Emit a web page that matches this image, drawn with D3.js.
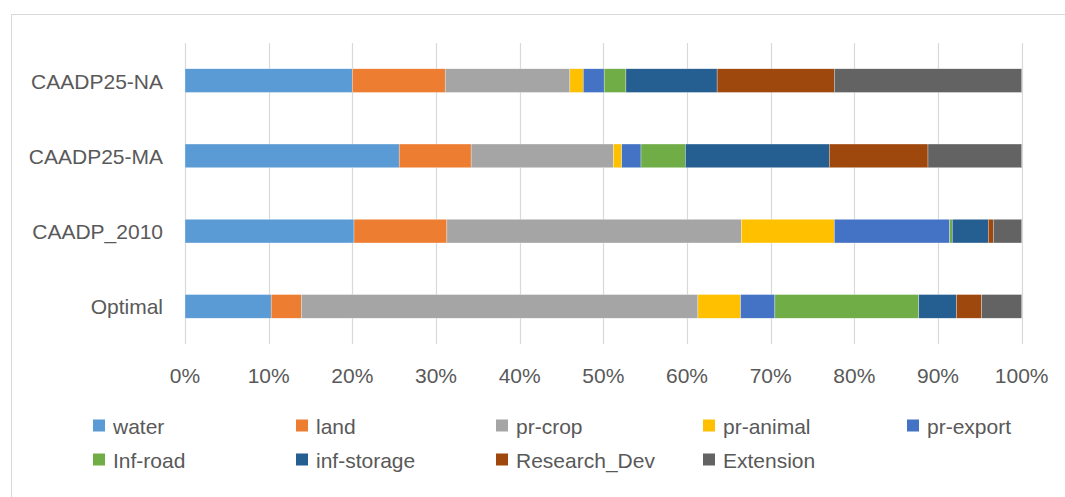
<!DOCTYPE html>
<html>
<head>
<meta charset="utf-8">
<script src="https://cdn.jsdelivr.net/npm/d3@7"></script>
<style>
  html, body { margin: 0; padding: 0; background: #fff; }
  svg { display: block; }
  text { font-family: "Liberation Sans", Arial, sans-serif; fill: #595959; }
</style>
</head>
<body>
<svg id="chart" width="1065" height="497"></svg>
<script>
// ---- data ----
const categories = ["CAADP25-NA", "CAADP25-MA", "CAADP_2010", "Optimal"];
const seriesNames = ["water", "land", "pr-crop", "pr-animal", "pr-export", "Inf-road", "inf-storage", "Research_Dev", "Extension"];
const seriesColors = ["#5B9BD5", "#ED7D31", "#A5A5A5", "#FFC000", "#4472C4", "#70AD47", "#255E91", "#9E480E", "#636363"];
const water       = [20.0, 25.6, 20.2, 10.3];
const land        = [11.1,  8.6, 11.1,  3.6];
const prCrop      = [14.9, 17.0, 35.2, 47.4];
const prAnimal    = [ 1.6,  1.0, 11.1,  5.1];
const prExport    = [ 2.5,  2.3, 13.8,  4.1];
const infRoad     = [ 2.6,  5.3,  0.3, 17.2];
const infStorage  = [10.9, 17.2,  4.3,  4.5];
const researchDev = [14.0, 11.8,  0.6,  3.0];
const extension   = [22.4, 11.2,  3.4,  4.8];
const tickValues = [0, 0.1, 0.2, 0.3, 0.4, 0.5, 0.6, 0.7, 0.8, 0.9, 1.0];

const seriesValues = [water, land, prCrop, prAnimal, prExport, infRoad, infStorage, researchDev, extension];

// table for stacking
const table = categories.map((c, i) => {
  const row = { category: c };
  seriesNames.forEach((s, j) => { row[s] = seriesValues[j][i]; });
  return row;
});

const svg = d3.select("#chart");

// outer chart border
svg.append("rect")
  .attr("x", 11.5).attr("y", 14.5)
  .attr("width", 1100).attr("height", 600)
  .attr("fill", "none").attr("stroke", "#d9d9d9").attr("stroke-width", 1);

const plot = { left: 185, right: 1021.7, top: 43, bottom: 344 };

const x = d3.scaleLinear().domain([0, 1]).range([plot.left, plot.right]);
const y = d3.scaleBand().domain(categories).range([plot.top, plot.bottom]).paddingInner(0.685).paddingOuter(0.3425);

// gridlines
svg.append("g").selectAll("line").data(tickValues).join("line")
  .attr("x1", d => Math.round(x(d)) + 0.5).attr("x2", d => Math.round(x(d)) + 0.5)
  .attr("y1", plot.top).attr("y2", plot.bottom)
  .attr("stroke", "#d9d9d9").attr("stroke-width", 1.2);

// stacked, normalized
const stack = d3.stack().keys(seriesNames).offset(d3.stackOffsetExpand);
const stacked = stack(table);

svg.append("g").selectAll("g").data(stacked).join("g")
  .attr("fill", (d, i) => seriesColors[i])
  .selectAll("rect").data(d => d).join("rect")
  .attr("x", d => x(d[0]))
  .attr("width", d => Math.max(0, x(d[1]) - x(d[0])))
  .attr("y", d => y(d.data.category))
  .attr("height", y.bandwidth())
  .attr("stroke", "#ffffff").attr("stroke-width", 0.5).attr("stroke-opacity", 0.6);

// category labels
svg.append("g").selectAll("text").data(categories).join("text")
  .attr("x", 163)
  .attr("y", d => y(d) + y.bandwidth() / 2 + 8)
  .attr("text-anchor", "end")
  .style("font-size", "21px")
  .text(d => d);

// x tick labels
const fmt = d3.format(".0%");
svg.append("g").selectAll("text").data(tickValues).join("text")
  .attr("x", d => x(d))
  .attr("y", 383)
  .attr("text-anchor", "middle")
  .style("font-size", "21px")
  .text(d => fmt(d));

// legend
const legendX = [93, 296, 496, 703, 907];
const legendRowY = [426, 460];
const legend = svg.append("g").selectAll("g").data(seriesNames).join("g")
  .attr("transform", (d, i) => `translate(${legendX[i % 5]},${legendRowY[Math.floor(i / 5)]})`);
legend.append("rect")
  .attr("x", 0).attr("y", -6.5).attr("width", 12).attr("height", 12)
  .attr("fill", (d, i) => seriesColors[i]);
legend.append("text")
  .attr("x", 20).attr("y", 7.5)
  .style("font-size", "21px")
  .text(d => d);
</script>
</body>
</html>
